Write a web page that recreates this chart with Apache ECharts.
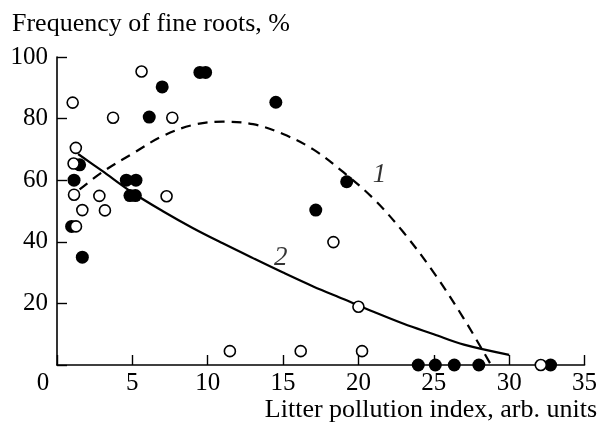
<!DOCTYPE html>
<html><head><meta charset="utf-8">
<script src="https://cdn.jsdelivr.net/npm/echarts@6/dist/echarts.min.js"></script>
<style>html,body{margin:0;padding:0;background:#fff}#c{width:600px;height:424px}</style>
</head><body><div id="c"></div>
<script>
// Filled circles [pollution index, frequency %]
const filledPoints = [[0.97,45],[1.13,60],[1.5,65],[1.68,35],[4.6,60],[5.24,60],[4.84,55],[5.2,55],[6.12,80.5],[6.98,90.3],[9.48,95],[9.86,95],[14.52,85.3],[17.17,50.3],[19.22,59.5],[23.97,0],[25.1,0],[26.36,0],[27.99,0],[32.75,0]];
// Open circles
const openPoints = [[1.04,85.2],[5.61,95.3],[3.72,80.3],[7.65,80.3],[1.25,70.5],[1.1,65.4],[1.13,55.3],[1.68,50.3],[2.81,54.9],[3.18,50.2],[7.27,54.8],[1.26,45],[18.34,39.9],[20.0,18.9],[11.47,4.5],[16.17,4.5],[20.24,4.5],[32.1,0]];
// Curve 1 (dashed)
const curve1 = [[1.5,57],[3,62.6],[5,68.6],[7,74.3],[9,77.9],[11,79],[13,78.2],[15,75],[17,70],[19,62.6],[21,54],[23,43],[25,30],[27,15],[28.8,0]];
// Curve 2 (solid)
const curve2 = [[1.4,68.5],[3,63],[5,56],[7,50],[9,44.5],[11,39.5],[13,34.7],[15,30],[17,25.5],[19,21.4],[21,17.3],[23,13.4],[25,10],[27,6.6],[30,3.3]];
// Curve labels
const curveLabels = [{name:'1', value:[21.4,61.7]},{name:'2', value:[14.85,34.7]}];
const xTicks = {min:0, max:35, interval:5};
const yTicks = {min:0, max:100, interval:20};
const yTitle = 'Frequency of fine roots, %';
const xTitle = 'Litter pollution index, arb. units';

const FONT = '"Liberation Serif", "Times New Roman", serif';
const chart = echarts.init(document.getElementById('c'), null, {renderer:'canvas'});
chart.setOption({
  animation:false,
  backgroundColor:'#fff',
  title:{text:yTitle, left:12, top:11, padding:0,
    textStyle:{fontFamily:FONT, fontSize:26, fontWeight:'normal', color:'#000'}},
  graphic:[{type:'text', right:3, top:397,
    style:{text:xTitle, font:'26px "Liberation Serif", serif', fill:'#000'}}],
  grid:{left:57, right:15, top:57, bottom:59},
  xAxis:{type:'value', min:xTicks.min, max:xTicks.max, interval:xTicks.interval,
    axisLine:{show:true, onZero:false, lineStyle:{color:'#000', width:1.6}},
    axisTick:{show:true, inside:true, length:10, lineStyle:{color:'#000', width:1.4}},
    splitLine:{show:false},
    axisLabel:{margin:6, color:'#000', fontFamily:FONT, fontSize:25,
      formatter:function(v){return v===0?'{z|0}':String(v);},
      rich:{z:{fontFamily:FONT, fontSize:25, color:'#000', padding:[0,28,0,0]}}}},
  yAxis:{type:'value', min:yTicks.min, max:yTicks.max, interval:yTicks.interval,
    axisLine:{show:true, onZero:false, lineStyle:{color:'#000', width:1.6}},
    axisTick:{show:true, inside:true, length:10, lineStyle:{color:'#000', width:1.4}},
    splitLine:{show:false},
    axisLabel:{margin:9, color:'#000', fontFamily:FONT, fontSize:25,
      formatter:function(v){return v===0?'':String(v);}}},
  series:[
    {type:'line', data:curve1, smooth:0.35, symbol:'none', z:1,
      lineStyle:{color:'#000', width:2.2, type:[10,7]}},
    {type:'line', data:curve2, smooth:0.35, symbol:'none', z:1,
      lineStyle:{color:'#000', width:2.2}},
    {type:'scatter', data:filledPoints, symbol:'circle', symbolSize:13, z:3,
      itemStyle:{color:'#000', opacity:1}},
    {type:'scatter', data:openPoints, symbol:'circle', symbolSize:11, z:4,
      itemStyle:{color:'#fff', borderColor:'#000', borderWidth:1.6, opacity:1}},
    {type:'scatter', data:curveLabels, symbolSize:0, z:5,
      label:{show:true, position:'inside', formatter:'{b}', color:'#000',
        fontFamily:FONT, fontSize:27, fontStyle:'italic'}}
  ]
});
</script></body></html>
